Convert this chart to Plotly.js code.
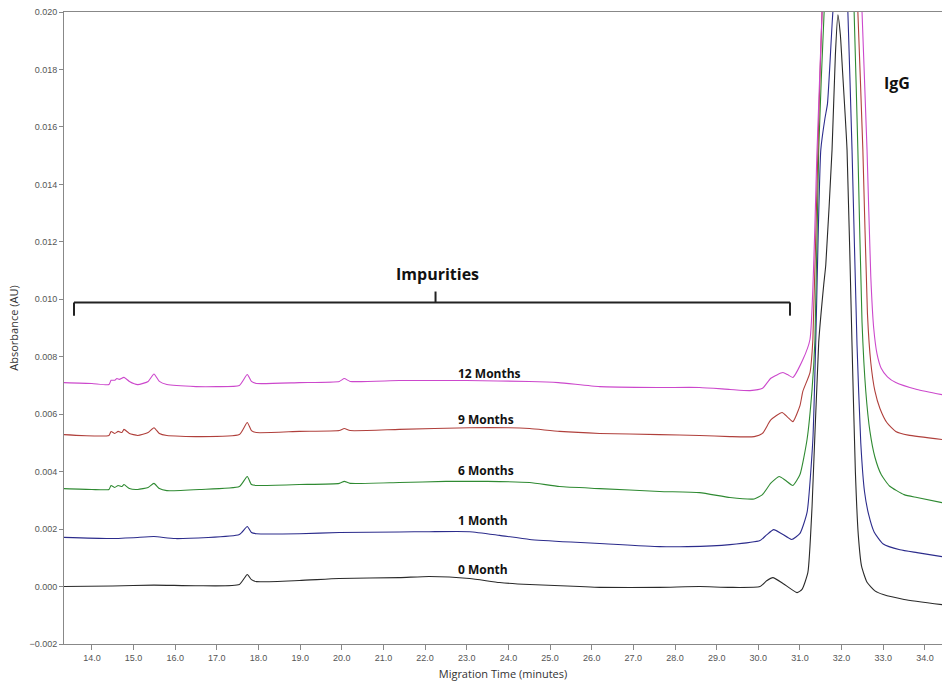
<!DOCTYPE html>
<html>
<head>
<meta charset="utf-8">
<script src="https://cdn.plot.ly/plotly-3.0.1.min.js"></script>
<style>html,body{margin:0;padding:0;background:#fff;}#chart{width:942px;height:686px;}</style>
</head>
<body>
<div id="chart"></div>
<script>
// Series labels and colours
const seriesNames = ["0 Month", "1 Month", "6 Months", "9 Months", "12 Months"];
const seriesColors = ["#2a2a2a", "#2c2c8c", "#2f8a32", "#b0403c", "#cc48cc"];

// 0 Month (black)
const time0 = [13.33,14.5,15.49,16.5,17.54,17.73,17.83,17.95,18.98,19.94,21.38,22.1,23.07,23.79,24.51,25.71,26.19,27.63,28.59,29.32,30.04,30.2,30.35,30.6,30.93,31.05,31.19,31.29,31.45,31.57,31.62,31.77,31.85,31.91,31.97,32.02,32.13,32.25,32.33,32.40,32.48,32.61,32.8,33.0,33.5,34.41];
const abs0  = [0.0,0.00002,0.00005,0.00003,0.00007,0.00042,0.00024,0.00017,0.00021,0.00028,0.00031,0.00035,0.00028,0.00014,0.00007,0.0,-0.00003,-0.00003,0.0,-0.00003,0.0,0.0002,0.00031,0.0001,-0.00021,-0.0001,0.00049,0.00278,0.0085,0.0105,0.0112,0.0152,0.0185,0.0199,0.0192,0.0180,0.0152,0.0084,0.0040,0.0018,0.0007,0.00015,-0.00015,-0.00028,-0.00045,-0.00063];

// 1 Month (blue)
const time1 = [13.33,14.41,15.0,15.49,16.0,17.54,17.73,17.83,17.95,18.98,19.94,21.38,22.1,23.07,23.79,24.51,25.5,26.19,27.63,28.3,29.32,30.04,30.2,30.37,30.55,30.8,31.0,31.17,31.31,31.38,31.5,31.6,31.66,31.79,31.95,32.0,32.08,32.15,32.25,32.37,32.46,32.55,32.65,32.78,33.0,33.4,33.81,34.41];
const abs1  = [0.00171,0.00167,0.0017,0.00174,0.00167,0.00181,0.00209,0.00188,0.00184,0.00184,0.00188,0.0019,0.00191,0.00191,0.00178,0.00164,0.00155,0.0015,0.00139,0.00139,0.00146,0.0016,0.0018,0.00198,0.00185,0.00164,0.00185,0.00258,0.00512,0.0086,0.0152,0.0163,0.0168,0.020,0.0225,0.023,0.0225,0.020,0.0152,0.0084,0.0050,0.0033,0.0025,0.0019,0.00148,0.00128,0.00118,0.00104];

// 6 Months (green)
const time6 = [13.33,14.0,14.41,14.46,14.55,14.63,14.72,14.77,14.9,15.1,15.35,15.49,15.62,15.8,16.58,17.54,17.73,17.83,17.95,18.98,19.94,20.06,20.2,21.38,22.5,23.5,24.51,25.23,26.19,27.63,28.59,29.32,29.9,30.1,30.3,30.5,30.65,30.83,31.0,31.17,31.29,31.36,31.45,31.58,31.85,32.05,32.2,32.3,32.39,32.49,32.58,32.68,32.8,32.95,33.15,33.5,33.81,34.41];
const abs6  = [0.00341,0.00338,0.00338,0.00352,0.00345,0.00352,0.00348,0.00355,0.00341,0.00338,0.00345,0.00359,0.00341,0.00334,0.00338,0.00348,0.00383,0.00355,0.00352,0.00355,0.00359,0.00366,0.00359,0.00362,0.00366,0.00366,0.00362,0.00348,0.00341,0.00331,0.00327,0.0031,0.00305,0.0032,0.0036,0.00383,0.0037,0.00352,0.0039,0.00512,0.00686,0.0086,0.0152,0.020,0.026,0.027,0.024,0.020,0.0152,0.0092,0.0068,0.0054,0.0045,0.0039,0.0035,0.0032,0.0031,0.00292];

// 9 Months (red)
const time9 = [13.33,14.41,14.46,14.55,14.63,14.72,14.77,14.9,15.1,15.35,15.49,15.62,15.8,16.5,17.54,17.73,17.83,17.95,18.98,19.94,20.06,20.2,21.38,23.07,24.0,24.51,25.23,26.19,27.63,28.59,29.32,29.9,30.1,30.3,30.57,30.7,30.83,31.0,31.07,31.24,31.31,31.43,31.53,31.8,32.0,32.2,32.39,32.51,32.62,32.70,32.80,32.92,33.09,33.3,33.6,34.41];
const abs9  = [0.00529,0.00526,0.0054,0.00533,0.0054,0.00536,0.00547,0.00533,0.00526,0.00536,0.00553,0.00533,0.00526,0.00522,0.00529,0.00571,0.00543,0.00536,0.0054,0.00543,0.0055,0.00543,0.00547,0.00553,0.00553,0.0055,0.0054,0.00533,0.00529,0.00526,0.00522,0.00522,0.00533,0.0058,0.00606,0.0059,0.00574,0.0063,0.0068,0.00745,0.0086,0.0152,0.020,0.028,0.030,0.027,0.020,0.0152,0.0095,0.0078,0.0068,0.0062,0.0057,0.0054,0.00527,0.00512];

// 12 Months (magenta)
const time12 = [13.33,14.0,14.41,14.46,14.55,14.6,14.66,14.77,14.9,15.1,15.35,15.49,15.62,15.8,16.5,17.0,17.54,17.73,17.83,17.95,18.98,19.94,20.06,20.2,21.38,23.0,24.5,25.2,26.19,27.63,28.59,29.32,29.8,30.1,30.3,30.59,30.7,30.83,31.07,31.24,31.41,31.53,31.75,32.0,32.3,32.49,32.61,32.70,32.77,32.85,32.95,33.1,33.3,33.81,34.41];
const abs12  = [0.0071,0.00707,0.00703,0.00718,0.00718,0.00724,0.00721,0.00728,0.00714,0.00703,0.00714,0.0074,0.00714,0.00703,0.00696,0.00696,0.007,0.00738,0.00714,0.00707,0.0071,0.00714,0.00724,0.00714,0.00717,0.00717,0.00714,0.0071,0.00696,0.00693,0.00693,0.00686,0.00682,0.0069,0.00725,0.00745,0.00738,0.00728,0.0079,0.0086,0.0152,0.020,0.028,0.032,0.028,0.020,0.0152,0.0108,0.0090,0.0081,0.0076,0.0073,0.0071,0.00686,0.00668];

const seriesTimes = [time0, time1, time6, time9, time12];
const seriesAbs = [abs0, abs1, abs6, abs9, abs12];

// Label texts
const seriesLabelY = [0.00059, 0.0023, 0.00404, 0.00583, 0.00741];
const impuritiesText = "Impurities";
const peakText = "IgG";

const traces = seriesNames.map((name, i) => ({
  x: seriesTimes[i],
  y: seriesAbs[i],
  type: "scatter",
  mode: "lines",
  name: name,
  line: {color: seriesColors[i], width: 1.1, shape: "spline", smoothing: 0.5},
  hoverinfo: "skip"
}));

const labelFont = {family: "Open Sans, Noto Sans, sans-serif", size: 12, color: "#111"};
const annotations = seriesNames.map((name, i) => ({
  x: 22.73, y: seriesLabelY[i], xref: "x", yref: "y",
  text: "<b>" + name + "</b>", showarrow: false,
  xanchor: "left", yanchor: "middle", font: labelFont
}));
annotations.push({
  x: 22.3, y: 0.01087, xref: "x", yref: "y", text: "<b>" + impuritiesText + "</b>",
  showarrow: false, xanchor: "center", yanchor: "middle",
  font: {family: "Open Sans, Noto Sans, sans-serif", size: 16, color: "#111"}
});
annotations.push({
  x: 33.33, y: 0.01754, xref: "x", yref: "y", text: "<b>" + peakText + "</b>",
  showarrow: false, xanchor: "center", yanchor: "middle",
  font: {family: "Open Sans, Noto Sans, sans-serif", size: 16, color: "#111"}
});

const bracketLine = {color: "#222", width: 2};
const shapes = [
  {type: "line", xref: "x", yref: "y", x0: 13.57, x1: 30.76, y0: 0.00989, y1: 0.00989, line: bracketLine},
  {type: "line", xref: "x", yref: "y", x0: 13.57, x1: 13.57, y0: 0.00989, y1: 0.00943, line: bracketLine},
  {type: "line", xref: "x", yref: "y", x0: 30.76, x1: 30.76, y0: 0.00989, y1: 0.00943, line: bracketLine},
  {type: "line", xref: "x", yref: "y", x0: 22.25, x1: 22.25, y0: 0.00989, y1: 0.01027, line: bracketLine}
];

const tickFont = {family: "Liberation Sans, Arial, sans-serif", size: 9, color: "#555"};
const titleFont = {family: "Open Sans, Noto Sans, sans-serif", size: 11, color: "#333"};

const layout = {
  width: 942, height: 686,
  margin: {l: 64, r: 0, t: 12, b: 42},
  paper_bgcolor: "#fff", plot_bgcolor: "#fff",
  showlegend: false,
  hovermode: false,
  xaxis: {
    range: [13.33, 34.41], tick0: 14, dtick: 1, tickformat: ".1f",
    showgrid: false, zeroline: false, showline: true, mirror: true,
    linecolor: "#888", linewidth: 1,
    ticks: "outside", ticklen: 5, tickcolor: "#888", tickfont: tickFont,
    title: {text: "Migration Time (minutes)", font: titleFont, standoff: 8}
  },
  yaxis: {
    range: [-0.002, 0.020], tick0: 0, dtick: 0.002, tickformat: ".3f",
    showgrid: false, zeroline: false, showline: true,
    linecolor: "#888", linewidth: 1,
    ticks: "outside", ticklen: 4, tickcolor: "#888", tickfont: tickFont,
    title: {text: "Absorbance (AU)", font: titleFont, standoff: 8}
  },
  annotations: annotations,
  shapes: shapes
};

Plotly.newPlot("chart", traces, layout, {displayModeBar: false, staticPlot: true});
</script>
</body>
</html>
